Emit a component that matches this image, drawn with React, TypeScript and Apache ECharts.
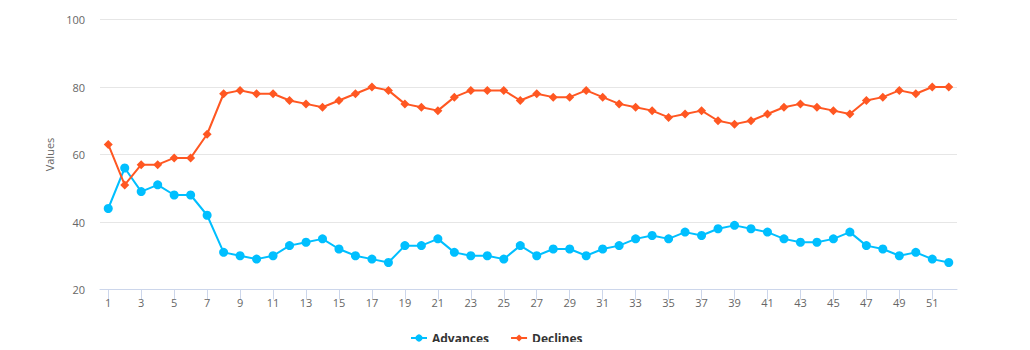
import React, { useEffect, useRef } from "react";
import * as echarts from "echarts";

const categories: string[] = Array.from({ length: 52 }, (_, i) => String(i + 1));

const advances: number[] = [
  44, 56, 49, 51, 48, 48, 42, 31, 30, 29, 30, 33, 34, 35, 32, 30, 29, 28, 33, 33,
  35, 31, 30, 30, 29, 33, 30, 32, 32, 30, 32, 33, 35, 36, 35, 37, 36, 38, 39, 38,
  37, 35, 34, 34, 35, 37, 33, 32, 30, 31, 29, 28,
];

const declines: number[] = [
  63, 51, 57, 57, 59, 59, 66, 78, 79, 78, 78, 76, 75, 74, 76, 78, 80, 79, 75, 74,
  73, 77, 79, 79, 79, 76, 78, 77, 77, 79, 77, 75, 74, 73, 71, 72, 73, 70, 69, 70,
  72, 74, 75, 74, 73, 72, 76, 77, 79, 78, 80, 80,
];

const FONT = "'Open Sans', 'DejaVu Sans', sans-serif";

export default function App() {
  const ref = useRef<HTMLDivElement>(null);
  useEffect(() => {
    if (!ref.current) return;
    const chart = echarts.init(ref.current, undefined, { renderer: "svg" });
    chart.setOption({
      animation: false,
      textStyle: { fontFamily: FONT },
      grid: { left: 92, right: 65, top: 11.5, bottom: 60.5, containLabel: false },
      legend: {
        top: 319,
        left: 397,
        itemGap: 21,
        itemWidth: 16,
        itemHeight: 9,
        textStyle: { fontFamily: FONT, fontSize: 12, fontWeight: "bold", color: "#333333" },
        data: ["Advances", "Declines"],
      },
      xAxis: {
        type: "category",
        data: categories,
        boundaryGap: true,
        axisLine: { show: true, lineStyle: { color: "#ccd6eb", width: 1 } },
        axisTick: { show: true, interval: 1, alignWithLabel: true, length: 10, lineStyle: { color: "#ccd6eb" } },
        axisLabel: { interval: 1, color: "#666666", fontSize: 11, margin: 7, fontFamily: FONT },
        splitLine: { show: false },
      },
      yAxis: {
        type: "value",
        min: 20,
        max: 100,
        interval: 20,
        name: "Values",
        nameLocation: "middle",
        nameGap: 43,
        nameRotate: 90,
        nameTextStyle: { color: "#666666", fontSize: 11, fontFamily: FONT },
        axisLine: { show: false },
        axisTick: { show: false },
        axisLabel: { color: "#666666", fontSize: 11, margin: 15, fontFamily: FONT },
        splitLine: { show: true, lineStyle: { color: "#e6e6e6", width: 1 } },
      },
      series: [
        {
          name: "Advances",
          type: "line",
          data: advances,
          symbol: "circle",
          symbolSize: 9,
          showAllSymbol: true,
          lineStyle: { width: 2, color: "#00bfff" },
          itemStyle: { color: "#00bfff" },
        },
        {
          name: "Declines",
          type: "line",
          data: declines,
          symbol: "diamond",
          symbolSize: 9,
          showAllSymbol: true,
          lineStyle: { width: 2, color: "#ff5722" },
          itemStyle: { color: "#ff5722" },
        },
      ],
    });
    return () => chart.dispose();
  }, []);
  return <div ref={ref} style={{ width: 1014, height: 342, marginBottom: -8 }} />;
}
